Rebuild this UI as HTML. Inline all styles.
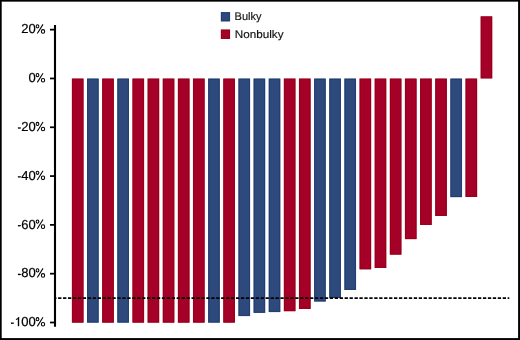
<!DOCTYPE html>
<html><head><meta charset="utf-8"><style>
html,body{margin:0;padding:0;background:#fff;}
body{width:520px;height:340px;overflow:hidden;position:relative;}
svg{position:absolute;left:0;top:0;display:block;will-change:transform;}
text{font-family:"Liberation Sans",sans-serif;text-rendering:geometricPrecision;}
</style></head><body>
<svg width="520" height="340" viewBox="0 0 520 340">
<rect x="0" y="0" width="520" height="340" fill="#fff"/>
<rect x="71.85" y="78.5" width="11.75" height="244.20" fill="#A40028"/><rect x="72.60" y="79.25" width="10.25" height="242.70" fill="none" stroke="#970018" stroke-width="0.9"/><rect x="86.99" y="78.5" width="11.75" height="244.20" fill="#2E4A7D"/><rect x="87.74" y="79.25" width="10.25" height="242.70" fill="none" stroke="#223C70" stroke-width="0.9"/><rect x="102.13" y="78.5" width="11.75" height="244.20" fill="#A40028"/><rect x="102.88" y="79.25" width="10.25" height="242.70" fill="none" stroke="#970018" stroke-width="0.9"/><rect x="117.26" y="78.5" width="11.75" height="244.20" fill="#2E4A7D"/><rect x="118.01" y="79.25" width="10.25" height="242.70" fill="none" stroke="#223C70" stroke-width="0.9"/><rect x="132.40" y="78.5" width="11.75" height="244.20" fill="#A40028"/><rect x="133.15" y="79.25" width="10.25" height="242.70" fill="none" stroke="#970018" stroke-width="0.9"/><rect x="147.54" y="78.5" width="11.75" height="244.20" fill="#A40028"/><rect x="148.29" y="79.25" width="10.25" height="242.70" fill="none" stroke="#970018" stroke-width="0.9"/><rect x="162.68" y="78.5" width="11.75" height="244.20" fill="#A40028"/><rect x="163.43" y="79.25" width="10.25" height="242.70" fill="none" stroke="#970018" stroke-width="0.9"/><rect x="177.82" y="78.5" width="11.75" height="244.20" fill="#A40028"/><rect x="178.57" y="79.25" width="10.25" height="242.70" fill="none" stroke="#970018" stroke-width="0.9"/><rect x="192.95" y="78.5" width="11.75" height="244.20" fill="#A40028"/><rect x="193.70" y="79.25" width="10.25" height="242.70" fill="none" stroke="#970018" stroke-width="0.9"/><rect x="208.09" y="78.5" width="11.75" height="244.20" fill="#2E4A7D"/><rect x="208.84" y="79.25" width="10.25" height="242.70" fill="none" stroke="#223C70" stroke-width="0.9"/><rect x="223.23" y="78.5" width="11.75" height="244.20" fill="#A40028"/><rect x="223.98" y="79.25" width="10.25" height="242.70" fill="none" stroke="#970018" stroke-width="0.9"/><rect x="238.37" y="78.5" width="11.75" height="237.60" fill="#2E4A7D"/><rect x="239.12" y="79.25" width="10.25" height="236.10" fill="none" stroke="#223C70" stroke-width="0.9"/><rect x="253.51" y="78.5" width="11.75" height="234.40" fill="#2E4A7D"/><rect x="254.26" y="79.25" width="10.25" height="232.90" fill="none" stroke="#223C70" stroke-width="0.9"/><rect x="268.64" y="78.5" width="11.75" height="233.60" fill="#2E4A7D"/><rect x="269.39" y="79.25" width="10.25" height="232.10" fill="none" stroke="#223C70" stroke-width="0.9"/><rect x="283.78" y="78.5" width="11.75" height="232.80" fill="#A40028"/><rect x="284.53" y="79.25" width="10.25" height="231.30" fill="none" stroke="#970018" stroke-width="0.9"/><rect x="298.92" y="78.5" width="11.75" height="230.50" fill="#A40028"/><rect x="299.67" y="79.25" width="10.25" height="229.00" fill="none" stroke="#970018" stroke-width="0.9"/><rect x="314.06" y="78.5" width="11.75" height="223.10" fill="#2E4A7D"/><rect x="314.81" y="79.25" width="10.25" height="221.60" fill="none" stroke="#223C70" stroke-width="0.9"/><rect x="329.20" y="78.5" width="11.75" height="219.50" fill="#2E4A7D"/><rect x="329.95" y="79.25" width="10.25" height="218.00" fill="none" stroke="#223C70" stroke-width="0.9"/><rect x="344.33" y="78.5" width="11.75" height="211.50" fill="#2E4A7D"/><rect x="345.08" y="79.25" width="10.25" height="210.00" fill="none" stroke="#223C70" stroke-width="0.9"/><rect x="359.47" y="78.5" width="11.75" height="190.90" fill="#A40028"/><rect x="360.22" y="79.25" width="10.25" height="189.40" fill="none" stroke="#970018" stroke-width="0.9"/><rect x="374.61" y="78.5" width="11.75" height="189.50" fill="#A40028"/><rect x="375.36" y="79.25" width="10.25" height="188.00" fill="none" stroke="#970018" stroke-width="0.9"/><rect x="389.75" y="78.5" width="11.75" height="176.20" fill="#A40028"/><rect x="390.50" y="79.25" width="10.25" height="174.70" fill="none" stroke="#970018" stroke-width="0.9"/><rect x="404.89" y="78.5" width="11.75" height="160.70" fill="#A40028"/><rect x="405.64" y="79.25" width="10.25" height="159.20" fill="none" stroke="#970018" stroke-width="0.9"/><rect x="420.02" y="78.5" width="11.75" height="146.50" fill="#A40028"/><rect x="420.77" y="79.25" width="10.25" height="145.00" fill="none" stroke="#970018" stroke-width="0.9"/><rect x="435.16" y="78.5" width="11.75" height="137.50" fill="#A40028"/><rect x="435.91" y="79.25" width="10.25" height="136.00" fill="none" stroke="#970018" stroke-width="0.9"/><rect x="450.30" y="78.5" width="11.75" height="118.70" fill="#2E4A7D"/><rect x="451.05" y="79.25" width="10.25" height="117.20" fill="none" stroke="#223C70" stroke-width="0.9"/><rect x="465.44" y="78.5" width="11.75" height="118.50" fill="#A40028"/><rect x="466.19" y="79.25" width="10.25" height="117.00" fill="none" stroke="#970018" stroke-width="0.9"/><rect x="480.58" y="16.3" width="11.75" height="62.20" fill="#A40028"/><rect x="481.33" y="17.05" width="10.25" height="60.70" fill="none" stroke="#970018" stroke-width="0.9"/>
<line x1="55" y1="298.2" x2="509.3" y2="298.2" stroke="#000" stroke-width="1.7" stroke-dasharray="3.3 1.64" stroke-dashoffset="1.84"/>
<line x1="55" y1="25" x2="55" y2="326.8" stroke="#000" stroke-width="2.1"/>
<g font-size="13" fill="#000" stroke="#000" stroke-width="0.2"><line x1="50" y1="29.65" x2="55" y2="29.65" stroke="#000" stroke-width="1.75"/><text x="35.7" y="33.35" text-anchor="end">20</text><line x1="50" y1="78.46" x2="55" y2="78.46" stroke="#000" stroke-width="1.75"/><text x="35.7" y="82.16" text-anchor="end">0</text><line x1="50" y1="127.27" x2="55" y2="127.27" stroke="#000" stroke-width="1.75"/><text x="35.7" y="130.97" text-anchor="end">20</text><rect x="18.00" y="127.49" width="2.8" height="1.1"/><line x1="50" y1="176.08" x2="55" y2="176.08" stroke="#000" stroke-width="1.75"/><text x="35.7" y="179.78" text-anchor="end">40</text><rect x="18.00" y="176.30" width="2.8" height="1.1"/><line x1="50" y1="224.88" x2="55" y2="224.88" stroke="#000" stroke-width="1.75"/><text x="35.7" y="228.58" text-anchor="end">60</text><rect x="18.00" y="225.10" width="2.8" height="1.1"/><line x1="50" y1="273.69" x2="55" y2="273.69" stroke="#000" stroke-width="1.75"/><text x="35.7" y="277.39" text-anchor="end">80</text><rect x="18.00" y="273.91" width="2.8" height="1.1"/><line x1="50" y1="322.50" x2="55" y2="322.50" stroke="#000" stroke-width="1.75"/><text x="35.7" y="326.20" text-anchor="end">00</text><path d="M18.5 317.35V326.20" fill="none" stroke="#000" stroke-width="1.35"/><path d="M18.9 317.50Q17.8 319.10 15.9 319.50" fill="none" stroke="#000" stroke-width="1.2"/><rect x="11.00" y="322.72" width="2.8" height="1.1"/></g>
<g fill="none" stroke="#000" stroke-width="1.05"><ellipse cx="37.5" cy="26.35" rx="1.35" ry="1.6"/><ellipse cx="43.0" cy="31.40" rx="1.65" ry="1.8"/><line x1="37.3" y1="33.55" x2="43.0" y2="24.35"/><ellipse cx="37.5" cy="75.16" rx="1.35" ry="1.6"/><ellipse cx="43.0" cy="80.21" rx="1.65" ry="1.8"/><line x1="37.3" y1="82.36" x2="43.0" y2="73.16"/><ellipse cx="37.5" cy="123.97" rx="1.35" ry="1.6"/><ellipse cx="43.0" cy="129.02" rx="1.65" ry="1.8"/><line x1="37.3" y1="131.17" x2="43.0" y2="121.97"/><ellipse cx="37.5" cy="172.78" rx="1.35" ry="1.6"/><ellipse cx="43.0" cy="177.83" rx="1.65" ry="1.8"/><line x1="37.3" y1="179.98" x2="43.0" y2="170.78"/><ellipse cx="37.5" cy="221.58" rx="1.35" ry="1.6"/><ellipse cx="43.0" cy="226.63" rx="1.65" ry="1.8"/><line x1="37.3" y1="228.78" x2="43.0" y2="219.58"/><ellipse cx="37.5" cy="270.39" rx="1.35" ry="1.6"/><ellipse cx="43.0" cy="275.44" rx="1.65" ry="1.8"/><line x1="37.3" y1="277.59" x2="43.0" y2="268.39"/><ellipse cx="37.5" cy="319.20" rx="1.35" ry="1.6"/><ellipse cx="43.0" cy="324.25" rx="1.65" ry="1.8"/><line x1="37.3" y1="326.40" x2="43.0" y2="317.20"/></g>
<rect x="220.8" y="12.1" width="9.3" height="9.35" fill="#2E4A7D"/><rect x="221.55" y="12.85" width="7.80" height="7.85" fill="none" stroke="#223C70" stroke-width="0.9"/>
<rect x="220.8" y="29.5" width="9.3" height="9.45" fill="#A40028"/><rect x="221.55" y="30.25" width="7.80" height="7.95" fill="none" stroke="#970018" stroke-width="0.9"/>
<g font-size="11" fill="#111" stroke="#111" stroke-width="0.15">
<text x="234.6" y="19.55">Bulky</text>
<text x="234.7" y="37.7" textLength="48.8" lengthAdjust="spacingAndGlyphs">Nonbulky</text>
</g>
<rect x="0" y="0" width="520" height="1.65" fill="#000"/><rect x="0" y="0" width="1.7" height="340" fill="#000"/><rect x="518.1" y="0" width="1.9" height="340" fill="#000"/><rect x="0" y="338.1" width="520" height="1.9" fill="#000"/>
</svg>
</body></html>
